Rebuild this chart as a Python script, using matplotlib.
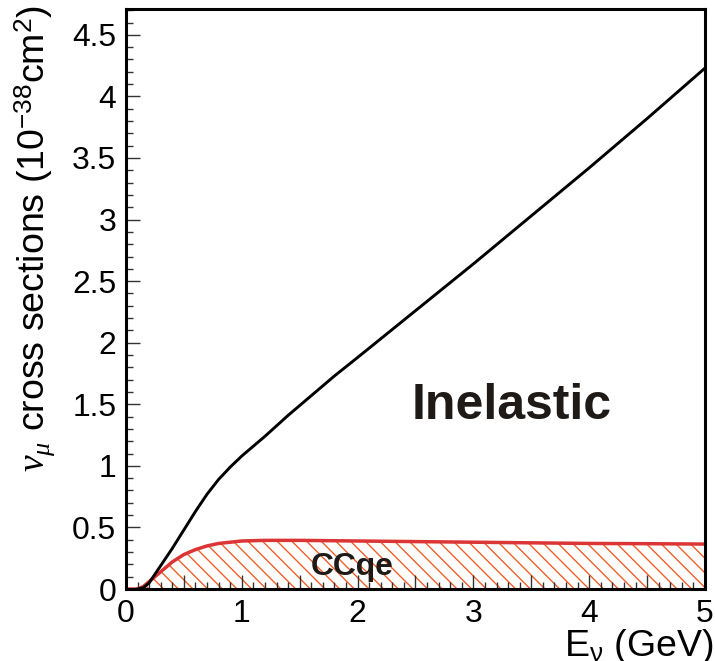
import numpy as np
import matplotlib
matplotlib.use('Agg')
import matplotlib.pyplot as plt
from matplotlib.ticker import MultipleLocator, FuncFormatter

###############################################################################
# Data
inel_x = [0.1, 0.15, 0.2, 0.3, 0.4, 0.5, 0.6, 0.7, 0.8, 0.9, 1.0, 1.1, 1.2,
          1.4, 1.6, 1.8, 2.0, 2.5, 3.0, 3.5, 4.0, 4.5, 5.0]
inel_y = [0.0, 0.01, 0.05, 0.19, 0.33, 0.48, 0.63, 0.77, 0.89, 0.99, 1.08,
          1.16, 1.24, 1.41, 1.57, 1.73, 1.88, 2.26, 2.64, 3.03, 3.42, 3.82,
          4.23]

ccqe_x = [0.0, 0.1, 0.15, 0.2, 0.25, 0.3, 0.4, 0.5, 0.6, 0.7, 0.8, 0.9, 1.0,
          1.2, 1.5, 2.0, 2.5, 3.0, 3.5, 4.0, 4.5, 5.0]
ccqe_y = [0.0, 0.0, 0.02, 0.06, 0.10, 0.14, 0.22, 0.28, 0.32, 0.35, 0.37,
          0.38, 0.39, 0.395, 0.395, 0.39, 0.385, 0.38, 0.375, 0.37, 0.368, 0.365]

###############################################################################
# dpi 88 gives the hatch spacing of the original; S keeps sizes in 100-dpi points
DPI = 88
S = 100.0 / DPI

plt.rcParams['font.family'] = ['Liberation Sans', 'DejaVu Sans']
plt.rcParams['mathtext.fontset'] = 'custom'
plt.rcParams['mathtext.rm'] = 'Liberation Sans'
plt.rcParams['mathtext.it'] = 'Liberation Serif:italic'
plt.rcParams['mathtext.bf'] = 'Liberation Sans:bold'
plt.rcParams['hatch.linewidth'] = 1.0 * S

fig = plt.figure(figsize=(715 / DPI, 661 / DPI), dpi=DPI)
ax = fig.add_axes([0.1762, 0.1089, 0.8098, 0.8775])

# Hatched CCqe region and its outline
ax.fill_between(ccqe_x, 0, ccqe_y, facecolor='none', edgecolor='#f0602a',
                hatch='\\\\', linewidth=0)
ax.plot(ccqe_x, ccqe_y, color='#dc3535', linewidth=2.5 * S)

# Inelastic curve
ax.plot(inel_x, inel_y, color='black', linewidth=2.1 * S)

ax.set_xlim(0, 5)
ax.set_ylim(0, 4.71)

# Ticks
ax.xaxis.set_major_locator(MultipleLocator(0.5))
ax.xaxis.set_minor_locator(MultipleLocator(0.1))
ax.xaxis.set_major_formatter(
    FuncFormatter(lambda v, p: '%d' % round(v) if abs(v - round(v)) < 1e-6 else ''))
ax.yaxis.set_major_locator(MultipleLocator(0.5))
ax.yaxis.set_minor_locator(MultipleLocator(0.1))
ax.yaxis.set_major_formatter(FuncFormatter(lambda v, p: ('%g' % v)))

ax.tick_params(which='both', direction='in', top=False, right=False,
               labelsize=23 * S, color='#333333', width=1 * S)
ax.tick_params(which='major', length=10 * S, pad=7 * S)
ax.tick_params(which='minor', length=5 * S)

for s in ax.spines.values():
    s.set_linewidth(2.2 * S)

# Labels
ax.set_ylabel(r'$\nu_{\mu}$ cross sections (10$^{-38}$cm$^{2}$)',
              fontsize=27 * S, loc='top')
ax.yaxis.set_label_coords(-0.119, 1.007)
ax.set_xlabel(r'E$_{\mathrm{\nu}}$ (GeV)', fontsize=27 * S, loc='right')
ax.xaxis.set_label_coords(1.014, -0.066)

# Annotations
ax.text(3.33, 1.49, 'Inelastic', fontsize=36 * S, fontweight='bold',
        color='#1e1a18', ha='center', va='center')
ax.text(1.95, 0.18, 'CCqe', fontsize=23 * S, fontweight='bold',
        color='#1e1a18', ha='center', va='center')

fig.savefig('out.png', dpi=DPI)
